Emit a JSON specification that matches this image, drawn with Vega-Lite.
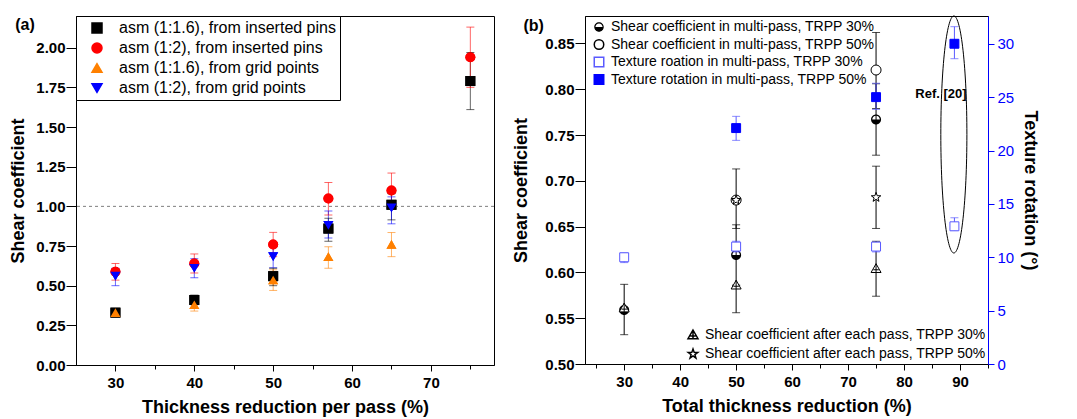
{
  "$schema": "https://vega.github.io/schema/vega-lite/v6.json",
  "padding": {"left": 9, "top": 13, "right": 0, "bottom": 0},
  "spacing": 17,
  "config": {
    "font": "Liberation Sans",
    "view": {"stroke": "black", "strokeWidth": 1},
    "axis": {"grid": false, "domainColor": "black", "tickColor": "black", "labelFontSize": 15, "labelFontWeight": "bold", "labelColor": "black", "titleFontSize": 18, "titleFontWeight": "bold", "titleColor": "black", "tickSize": 6, "labelFont": "Liberation Sans", "titleFont": "Liberation Sans"},
    "legend": {"labelLimit": 400}
  },
  "hconcat": [
    {
      "width": 418,
      "height": 349,
      "data": {"values": [
        {"series": "asm (1:1.6), from inserted pins", "x": 30, "y": 0.33, "lo": 0.31, "hi": 0.35},
        {"series": "asm (1:1.6), from inserted pins", "x": 40, "y": 0.41, "lo": 0.38, "hi": 0.44},
        {"series": "asm (1:1.6), from inserted pins", "x": 50, "y": 0.56, "lo": 0.50, "hi": 0.61},
        {"series": "asm (1:1.6), from inserted pins", "x": 57, "y": 0.86, "lo": 0.78, "hi": 0.925},
        {"series": "asm (1:1.6), from inserted pins", "x": 65, "y": 1.01, "lo": 0.915, "hi": 1.08},
        {"series": "asm (1:1.6), from inserted pins", "x": 75, "y": 1.79, "lo": 1.61, "hi": 1.97},
        {"series": "asm (1:2), from inserted pins", "x": 30, "y": 0.588, "lo": 0.535, "hi": 0.64},
        {"series": "asm (1:2), from inserted pins", "x": 40, "y": 0.64, "lo": 0.58, "hi": 0.70},
        {"series": "asm (1:2), from inserted pins", "x": 50, "y": 0.76, "lo": 0.683, "hi": 0.836},
        {"series": "asm (1:2), from inserted pins", "x": 57, "y": 1.05, "lo": 0.945, "hi": 1.15},
        {"series": "asm (1:2), from inserted pins", "x": 65, "y": 1.10, "lo": 0.99, "hi": 1.21},
        {"series": "asm (1:2), from inserted pins", "x": 75, "y": 1.94, "lo": 1.75, "hi": 2.13},
        {"series": "asm (1:1.6), from grid points", "x": 30, "y": 0.33, "lo": 0.31, "hi": 0.35},
        {"series": "asm (1:1.6), from grid points", "x": 40, "y": 0.38, "lo": 0.34, "hi": 0.40},
        {"series": "asm (1:1.6), from grid points", "x": 50, "y": 0.536, "lo": 0.47, "hi": 0.60},
        {"series": "asm (1:1.6), from grid points", "x": 57, "y": 0.683, "lo": 0.61, "hi": 0.745},
        {"series": "asm (1:1.6), from grid points", "x": 65, "y": 0.76, "lo": 0.683, "hi": 0.835},
        {"series": "asm (1:2), from grid points", "x": 30, "y": 0.56, "lo": 0.50, "hi": 0.61},
        {"series": "asm (1:2), from grid points", "x": 40, "y": 0.61, "lo": 0.55, "hi": 0.67},
        {"series": "asm (1:2), from grid points", "x": 50, "y": 0.683, "lo": 0.613, "hi": 0.745},
        {"series": "asm (1:2), from grid points", "x": 57, "y": 0.88, "lo": 0.80, "hi": 0.97},
        {"series": "asm (1:2), from grid points", "x": 65, "y": 0.99, "lo": 0.89, "hi": 1.06}
      ]},
      "layer": [
        {
          "mark": {"type": "point", "filled": true, "size": 100, "opacity": 1},
          "encoding": {
            "x": {"field": "x", "type": "quantitative", "scale": {"domain": [25, 78], "nice": false, "zero": false},
              "axis": {"title": "Thickness reduction per pass (%)", "values": [30, 35, 40, 45, 50, 55, 60, 65, 70, 75], "labelExpr": "datum.value % 10 == 0 ? datum.label : ''", "tickSize": {"condition": {"test": "datum.value % 10 == 0", "value": 6}, "value": 4}, "labelPadding": 4, "titlePadding": 8}},
            "y": {"field": "y", "type": "quantitative", "scale": {"domain": [0, 2.2], "nice": false, "zero": false},
              "axis": {"title": "Shear coefficient", "values": [0, 0.125, 0.25, 0.375, 0.5, 0.625, 0.75, 0.875, 1, 1.125, 1.25, 1.375, 1.5, 1.625, 1.75, 1.875, 2, 2.125], "labelExpr": "abs(datum.value*4-round(datum.value*4))<0.001 ? format(datum.value,'.2f') : ''", "tickSize": {"condition": {"test": "abs(datum.value*4-round(datum.value*4))<0.001", "value": 10}, "value": 4}, "labelPadding": 1, "titlePadding": 8}},
            "color": {"field": "series", "type": "nominal", "scale": {"domain": ["asm (1:1.6), from inserted pins", "asm (1:2), from inserted pins", "asm (1:1.6), from grid points", "asm (1:2), from grid points"], "range": ["#000000", "#ff0000", "#ff8000", "#0000ff"]},
              "legend": {"title": null, "orient": "top-left", "offset": 0, "padding": 4, "strokeColor": "black", "fillColor": "white", "labelFontSize": 16, "labelFont": "Liberation Sans", "labelFontWeight": "normal", "symbolSize": 100, "rowPadding": 4, "labelOffset": 14, "symbolOffset": 9}},
            "shape": {"field": "series", "type": "nominal", "scale": {"domain": ["asm (1:1.6), from inserted pins", "asm (1:2), from inserted pins", "asm (1:1.6), from grid points", "asm (1:2), from grid points"], "range": ["square", "circle", "triangle-up", "triangle-down"]},
              "legend": {"title": null, "orient": "top-left", "offset": 0, "padding": 4, "strokeColor": "black", "fillColor": "white", "labelFontSize": 16, "labelFont": "Liberation Sans", "labelFontWeight": "normal", "symbolSize": 100, "rowPadding": 4, "labelOffset": 14, "symbolOffset": 9}}
          }
        },
        {
          "data": {"values": [{"ref": 1}]},
          "mark": {"type": "rule", "color": "#7f7f7f", "strokeDash": [3, 3], "strokeWidth": 1},
          "encoding": {"y": {"field": "ref", "type": "quantitative", "scale": {"domain": [0, 2.2], "nice": false, "zero": false}}}
        },
        {
          "mark": {"type": "rule", "strokeWidth": 1, "opacity": 0.6},
          "encoding": {
            "x": {"field": "x", "type": "quantitative", "scale": {"domain": [25, 78], "nice": false, "zero": false}},
            "y": {"field": "lo", "type": "quantitative", "scale": {"domain": [0, 2.2], "nice": false, "zero": false}},
            "y2": {"field": "hi"},
            "color": {"field": "series", "type": "nominal"}
          }
        },
        {
          "mark": {"type": "tick", "orient": "horizontal", "size": 8, "thickness": 1, "opacity": 0.6},
          "encoding": {
            "x": {"field": "x", "type": "quantitative", "scale": {"domain": [25, 78], "nice": false, "zero": false}},
            "y": {"field": "lo", "type": "quantitative", "scale": {"domain": [0, 2.2], "nice": false, "zero": false}},
            "color": {"field": "series", "type": "nominal"}
          }
        },
        {
          "mark": {"type": "tick", "orient": "horizontal", "size": 8, "thickness": 1, "opacity": 0.6},
          "encoding": {
            "x": {"field": "x", "type": "quantitative", "scale": {"domain": [25, 78], "nice": false, "zero": false}},
            "y": {"field": "hi", "type": "quantitative", "scale": {"domain": [0, 2.2], "nice": false, "zero": false}},
            "color": {"field": "series", "type": "nominal"}
          }
        },
        {
          "mark": {"type": "point", "filled": true, "size": 100, "opacity": 1},
          "encoding": {
            "x": {"field": "x", "type": "quantitative", "scale": {"domain": [25, 78], "nice": false, "zero": false}},
            "y": {"field": "y", "type": "quantitative", "scale": {"domain": [0, 2.2], "nice": false, "zero": false}},
            "color": {"field": "series", "type": "nominal"},
            "shape": {"field": "series", "type": "nominal"}
          }
        },
        {
          "data": {"values": [{"t": "(a)", "x": 17.3, "y": 2.143}]},
          "mark": {"type": "text", "fontSize": 16, "fontWeight": "bold", "align": "left", "baseline": "middle", "color": "black"},
          "encoding": {
            "x": {"field": "x", "type": "quantitative", "scale": {"domain": [25, 78], "nice": false, "zero": false}},
            "y": {"field": "y", "type": "quantitative", "scale": {"domain": [0, 2.2], "nice": false, "zero": false}},
            "text": {"field": "t"}
          }
        }
      ]
    },
    {
      "width": 403,
      "height": 348,
      "encoding": {
        "x": {"field": "x", "type": "quantitative", "scale": {"domain": [23, 95], "nice": false, "zero": false},
          "axis": {"title": "Total thickness reduction (%)", "values": [25, 30, 35, 40, 45, 50, 55, 60, 65, 70, 75, 80, 85, 90, 95], "labelExpr": "datum.value % 10 == 0 ? datum.label : ''", "tickSize": {"condition": {"test": "datum.value % 10 == 0", "value": 6}, "value": 4}, "labelPadding": 4, "titlePadding": 8}}
      },
      "resolve": {"scale": {"y": "independent", "shape": "independent", "fill": "independent", "stroke": "independent"}},
      "layer": [
        {
          "data": {"values": [
            {"series": "Shear coefficient in multi-pass, TRPP 30%", "x": 30, "y": 0.559, "lo": 0.532, "hi": 0.587},
            {"series": "Shear coefficient in multi-pass, TRPP 30%", "x": 50, "y": 0.619, "lo": 0.556, "hi": 0.652},
            {"series": "Shear coefficient in multi-pass, TRPP 30%", "x": 75, "y": 0.767, "lo": 0.728, "hi": 0.806},
            {"series": "Shear coefficient in multi-pass, TRPP 50%", "x": 50, "y": 0.679, "lo": 0.648, "hi": 0.713},
            {"series": "Shear coefficient in multi-pass, TRPP 50%", "x": 75, "y": 0.821, "lo": 0.779, "hi": 0.862}
          ]},
          "layer": [
            {
              "mark": {"type": "rule", "color": "black", "strokeWidth": 1},
              "encoding": {
                "y": {"field": "lo", "type": "quantitative", "scale": {"domain": [0.5, 0.88], "nice": false, "zero": false},
                  "axis": {"orient": "left", "title": "Shear coefficient", "values": [0.5, 0.525, 0.55, 0.575, 0.6, 0.625, 0.65, 0.675, 0.7, 0.725, 0.75, 0.775, 0.8, 0.825, 0.85, 0.875], "labelExpr": "abs(datum.value*20-round(datum.value*20))<0.001 ? format(datum.value,'.2f') : ''", "tickSize": {"condition": {"test": "abs(datum.value*20-round(datum.value*20))<0.001", "value": 10}, "value": 4}, "labelPadding": 1, "titlePadding": 14}},
                "y2": {"field": "hi"}
              }
            },
            {
              "mark": {"type": "tick", "orient": "horizontal", "size": 8, "thickness": 1, "color": "black"},
              "encoding": {
                "y": {"field": "lo", "type": "quantitative", "scale": {"domain": [0.5, 0.88], "nice": false, "zero": false}}
              }
            },
            {
              "mark": {"type": "tick", "orient": "horizontal", "size": 8, "thickness": 1, "color": "black"},
              "encoding": {
                "y": {"field": "hi", "type": "quantitative", "scale": {"domain": [0.5, 0.88], "nice": false, "zero": false}}
              }
            },
            {
              "mark": {"type": "point", "filled": true, "size": 100, "strokeWidth": 1, "opacity": 1},
              "encoding": {
                "y": {"field": "y", "type": "quantitative", "scale": {"domain": [0.5, 0.88], "nice": false, "zero": false}},
                "shape": {"field": "series", "type": "nominal", "scale": {"domain": ["Shear coefficient in multi-pass, TRPP 30%", "Shear coefficient in multi-pass, TRPP 50%", "Texture roation in multi-pass, TRPP 30%", "Texture rotation in multi-pass, TRPP 50%"], "range": ["M-1,0 A1,1 0 1,1 1,0 A1,1 0 1,1 -1,0 Z M-0.75,0 A0.75,0.75 0 1,0 0.75,0 A0.75,0.75 0 1,0 -0.75,0 Z M-0.75,0 A0.75,0.75 0 0,0 0.75,0 Z", "circle", "square", "square"]},
                  "legend": {"title": null, "orient": "top-left", "offset": 0, "padding": 4, "labelFontSize": 14, "labelFont": "Liberation Sans", "labelFontWeight": "normal", "symbolSize": 90, "rowPadding": 1.5, "labelOffset": 5, "symbolOffset": 3}},
                "fill": {"field": "series", "type": "nominal", "scale": {"domain": ["Shear coefficient in multi-pass, TRPP 30%", "Shear coefficient in multi-pass, TRPP 50%", "Texture roation in multi-pass, TRPP 30%", "Texture rotation in multi-pass, TRPP 50%"], "range": ["black", "white", "white", "#0000ff"]},
                  "legend": {"title": null, "orient": "top-left", "offset": 0, "padding": 4, "labelFontSize": 14, "labelFont": "Liberation Sans", "labelFontWeight": "normal", "symbolSize": 90, "rowPadding": 1.5, "labelOffset": 5, "symbolOffset": 3}},
                "stroke": {"field": "series", "type": "nominal", "scale": {"domain": ["Shear coefficient in multi-pass, TRPP 30%", "Shear coefficient in multi-pass, TRPP 50%", "Texture roation in multi-pass, TRPP 30%", "Texture rotation in multi-pass, TRPP 50%"], "range": ["transparent", "black", "#5a5aff", "#0000ff"]},
                  "legend": {"title": null, "orient": "top-left", "offset": 0, "padding": 4, "labelFontSize": 14, "labelFont": "Liberation Sans", "labelFontWeight": "normal", "symbolSize": 90, "rowPadding": 1.5, "labelOffset": 5, "symbolOffset": 3}}
              }
            },
            {
              "data": {"values": [{"t": "(b)", "x": 12.0, "y": 0.869}]},
              "mark": {"type": "text", "fontSize": 16, "fontWeight": "bold", "align": "left", "baseline": "middle", "color": "black"},
              "encoding": {
                "y": {"field": "y", "type": "quantitative", "scale": {"domain": [0.5, 0.88], "nice": false, "zero": false}},
                "text": {"field": "t"}
              }
            }
          ]
        },
        {
          "data": {"values": [
            {"series": "Shear coefficient after each pass, TRPP 30%", "x": 30, "y": 0.561, "lo": 0.561, "hi": 0.561},
            {"series": "Shear coefficient after each pass, TRPP 30%", "x": 50, "y": 0.586, "lo": 0.586, "hi": 0.586},
            {"series": "Shear coefficient after each pass, TRPP 30%", "x": 75, "y": 0.604, "lo": 0.574, "hi": 0.634},
            {"series": "Shear coefficient after each pass, TRPP 50%", "x": 50, "y": 0.679, "lo": 0.679, "hi": 0.679},
            {"series": "Shear coefficient after each pass, TRPP 50%", "x": 75, "y": 0.682, "lo": 0.648, "hi": 0.716}
          ]},
          "layer": [
            {
              "mark": {"type": "rule", "color": "black", "strokeWidth": 1},
              "encoding": {
                "y": {"field": "lo", "type": "quantitative", "scale": {"domain": [0.5, 0.88], "nice": false, "zero": false}, "axis": null},
                "y2": {"field": "hi"}
              }
            },
            {
              "mark": {"type": "tick", "orient": "horizontal", "size": 8, "thickness": 1, "color": "black"},
              "encoding": {
                "y": {"field": "lo", "type": "quantitative", "scale": {"domain": [0.5, 0.88], "nice": false, "zero": false}, "axis": null}
              }
            },
            {
              "mark": {"type": "tick", "orient": "horizontal", "size": 8, "thickness": 1, "color": "black"},
              "encoding": {
                "y": {"field": "hi", "type": "quantitative", "scale": {"domain": [0.5, 0.88], "nice": false, "zero": false}, "axis": null}
              }
            },
            {
              "mark": {"type": "point", "filled": true, "size": 100, "strokeWidth": 1, "opacity": 1},
              "encoding": {
                "y": {"field": "y", "type": "quantitative", "scale": {"domain": [0.5, 0.88], "nice": false, "zero": false}, "axis": null},
                "shape": {"field": "series", "type": "nominal", "scale": {"domain": ["Shear coefficient after each pass, TRPP 30%", "Shear coefficient after each pass, TRPP 50%"], "range": ["M0,-1 L1,0.75 L-1,0.75 Z M0,-1 L0,0.75 M-0.55,0.2 L0.55,0.2", "M0,-1 L0.235,-0.324 L0.951,-0.309 L0.38,0.124 L0.588,0.809 L0,0.4 L-0.588,0.809 L-0.38,0.124 L-0.951,-0.309 L-0.235,-0.324 Z"]},
                  "legend": {"title": null, "orient": "bottom-right", "offset": 2, "padding": 0, "labelFontSize": 14, "labelFont": "Liberation Sans", "labelFontWeight": "normal", "symbolSize": 100, "rowPadding": 4, "labelOffset": 5}},
                "fill": {"field": "series", "type": "nominal", "scale": {"domain": ["Shear coefficient after each pass, TRPP 30%", "Shear coefficient after each pass, TRPP 50%"], "range": ["white", "white"]},
                  "legend": {"title": null, "orient": "bottom-right", "offset": 2, "padding": 0, "labelFontSize": 14, "labelFont": "Liberation Sans", "labelFontWeight": "normal", "symbolSize": 100, "rowPadding": 4, "labelOffset": 5}},
                "stroke": {"field": "series", "type": "nominal", "scale": {"domain": ["Shear coefficient after each pass, TRPP 30%", "Shear coefficient after each pass, TRPP 50%"], "range": ["black", "black"]},
                  "legend": {"title": null, "orient": "bottom-right", "offset": 2, "padding": 0, "labelFontSize": 14, "labelFont": "Liberation Sans", "labelFontWeight": "normal", "symbolSize": 100, "rowPadding": 4, "labelOffset": 5}}
              }
            }
          ]
        },
        {
          "data": {"values": [
            {"series": "Texture roation in multi-pass, TRPP 30%", "x": 30, "y": 10.0, "lo": 9.5, "hi": 10.4},
            {"series": "Texture roation in multi-pass, TRPP 30%", "x": 50, "y": 11.0, "lo": 10.5, "hi": 11.5},
            {"series": "Texture roation in multi-pass, TRPP 30%", "x": 75, "y": 11.0, "lo": 10.5, "hi": 11.4},
            {"series": "Texture roation in multi-pass, TRPP 30%", "x": 89, "y": 12.9, "lo": 12.5, "hi": 13.7},
            {"series": "Texture rotation in multi-pass, TRPP 50%", "x": 50, "y": 22.1, "lo": 20.95, "hi": 23.2},
            {"series": "Texture rotation in multi-pass, TRPP 50%", "x": 75, "y": 25.0, "lo": 23.85, "hi": 26.3},
            {"series": "Texture rotation in multi-pass, TRPP 50%", "x": 89, "y": 30.0, "lo": 28.6, "hi": 31.6}
          ]},
          "layer": [
            {
              "mark": {"type": "rule", "color": "#5a5aff", "strokeWidth": 1},
              "encoding": {
                "y": {"field": "lo", "type": "quantitative", "scale": {"domain": [0, 32.6], "nice": false, "zero": false},
                  "axis": {"orient": "right", "title": "Texture rotation (°)", "values": [0, 2.5, 5, 7.5, 10, 12.5, 15, 17.5, 20, 22.5, 25, 27.5, 30, 32.5], "labelExpr": "datum.value % 5 == 0 ? datum.label : ''", "tickSize": {"condition": {"test": "datum.value % 5 == 0", "value": 6}, "value": 4}, "labelColor": "#0000ff", "labelFontWeight": "normal", "labelFontSize": 15, "domainColor": "#0000ff", "tickColor": "#0000ff", "titleColor": "black", "labelPadding": 3, "titlePadding": 7}},
                "y2": {"field": "hi"}
              }
            },
            {
              "mark": {"type": "tick", "orient": "horizontal", "size": 8, "thickness": 1, "color": "#5a5aff"},
              "encoding": {
                "y": {"field": "lo", "type": "quantitative", "scale": {"domain": [0, 32.6], "nice": false, "zero": false}}
              }
            },
            {
              "mark": {"type": "tick", "orient": "horizontal", "size": 8, "thickness": 1, "color": "#5a5aff"},
              "encoding": {
                "y": {"field": "hi", "type": "quantitative", "scale": {"domain": [0, 32.6], "nice": false, "zero": false}}
              }
            },
            {
              "mark": {"type": "point", "filled": true, "size": 80, "strokeWidth": 1, "opacity": 1},
              "encoding": {
                "y": {"field": "y", "type": "quantitative", "scale": {"domain": [0, 32.6], "nice": false, "zero": false}},
                "shape": {"field": "series", "type": "nominal", "scale": {"domain": ["Texture roation in multi-pass, TRPP 30%", "Texture rotation in multi-pass, TRPP 50%"], "range": ["square", "square"]}, "legend": null},
                "fill": {"field": "series", "type": "nominal", "scale": {"domain": ["Texture roation in multi-pass, TRPP 30%", "Texture rotation in multi-pass, TRPP 50%"], "range": ["white", "#0000ff"]}, "legend": null},
                "stroke": {"field": "series", "type": "nominal", "scale": {"domain": ["Texture roation in multi-pass, TRPP 30%", "Texture rotation in multi-pass, TRPP 50%"], "range": ["#5a5aff", "#0000ff"]}, "legend": null}
              }
            },
            {
              "data": {"values": [{"x": 88.9, "y": 21.5}]},
              "mark": {"type": "point", "shape": "M0,-1 A0.11,1 0 1,1 0,1 A0.11,1 0 1,1 0,-1 Z", "size": 56169, "filled": false, "stroke": "black", "strokeWidth": 1, "opacity": 1},
              "encoding": {
                "y": {"field": "y", "type": "quantitative", "scale": {"domain": [0, 32.6], "nice": false, "zero": false}}
              }
            },
            {
              "data": {"values": [{"t": "Ref. [20]", "x": 86.6, "y": 25.3}]},
              "mark": {"type": "text", "fontSize": 13, "fontWeight": "bold", "align": "center", "baseline": "middle", "color": "black"},
              "encoding": {
                "y": {"field": "y", "type": "quantitative", "scale": {"domain": [0, 32.6], "nice": false, "zero": false}},
                "text": {"field": "t"}
              }
            }
          ]
        }
      ]
    }
  ]
}
